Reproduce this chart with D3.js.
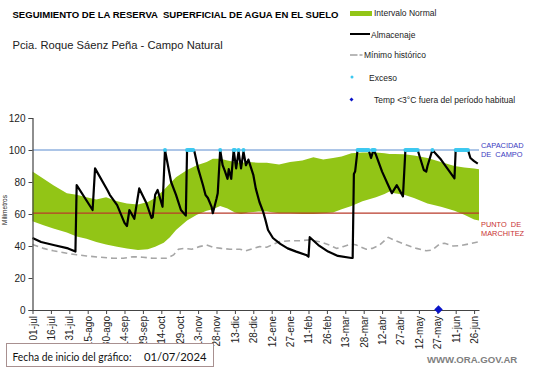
<!DOCTYPE html>
<html><head><meta charset="utf-8">
<script src="https://cdn.jsdelivr.net/npm/d3@7"></script>
<style>body{margin:0;background:#fff}svg{display:block;font-family:Arial,"Liberation Sans",sans-serif}</style>
</head><body>
<svg id="c" width="541" height="368"></svg>
<script>
// ---- data ----
const startDate = "2024-07-01", endDate = "2025-06-30";
const capacidadCampo = 100, puntoMarchitez = 60.5;
const yTicks = [0, 20, 40, 60, 80, 100, 120];
const xTickDates = ["2024-07-01","2024-07-16","2024-07-31","2024-08-15","2024-08-30","2024-09-14","2024-09-29","2024-10-14","2024-10-29","2024-11-13","2024-11-28","2024-12-13","2024-12-28","2025-01-12","2025-01-27","2025-02-11","2025-02-26","2025-03-13","2025-03-28","2025-04-12","2025-04-27","2025-05-12","2025-05-27","2025-06-11","2025-06-26"];
const xTickLabels = ["01-jul","16-jul","31-jul","15-ago","30-ago","14-sep","29-sep","14-oct","29-oct","13-nov","28-nov","13-dic","28-dic","12-ene","27-ene","11-feb","26-feb","13-mar","28-mar","12-abr","27-abr","12-may","27-may","11-jun","26-jun"];

// Intervalo normal (banda)
const bandDates = ["2024-07-01","2024-07-10","2024-07-18","2024-07-29","2024-08-06","2024-08-14","2024-08-22","2024-08-30","2024-09-08","2024-09-16","2024-09-25","2024-10-03","2024-10-09","2024-10-16","2024-10-21","2024-10-26","2024-11-04","2024-11-12","2024-11-20","2024-11-25","2024-12-01","2024-12-07","2024-12-13","2024-12-18","2024-12-24","2025-01-01","2025-01-08","2025-01-18","2025-01-27","2025-02-06","2025-02-15","2025-02-23","2025-03-03","2025-03-10","2025-03-18","2025-03-27","2025-04-07","2025-04-14","2025-04-18","2025-04-22","2025-04-30","2025-05-08","2025-05-19","2025-05-30","2025-06-10","2025-06-18","2025-06-26","2025-06-30"];
const bandLower = [55.5,53,51,48.5,46,44.5,42.5,41,39.5,38.5,37.5,38,39.5,42,45.5,50,56,59.5,62,63,65,63.5,61,60,61,61.5,61.5,60.5,60.5,60,60,60.5,61,63,65,68,70.5,72.5,74,73,72,70,66.5,64.5,62,59.5,56.5,56];
const bandUpper = [86.5,82,78,73,72,70.5,69,70.5,68,66.5,66,67.5,70,75,79,83,87.5,90.5,92.5,94.5,94.5,93.5,92.5,92,92.5,92,92,91,92.5,93.5,95.5,94,95,96,98,98.5,98.5,98,97.5,97.5,97.3,96.5,95,92.5,90,89,88.5,88];

// Mínimo histórico
const minDates = ["2024-07-01","2024-07-10","2024-07-18","2024-07-29","2024-08-06","2024-08-14","2024-08-25","2024-09-05","2024-09-13","2024-09-21","2024-09-29","2024-10-07","2024-10-18","2024-10-24","2024-10-28","2024-11-02","2024-11-08","2024-11-14","2024-11-20","2024-11-25","2024-12-02","2024-12-09","2024-12-17","2024-12-22","2024-12-28","2025-01-02","2025-01-08","2025-01-18","2025-01-27","2025-02-04","2025-02-12","2025-02-20","2025-02-28","2025-03-06","2025-03-11","2025-03-18","2025-03-22","2025-03-30","2025-04-04","2025-04-10","2025-04-17","2025-04-23","2025-05-02","2025-05-10","2025-05-18","2025-05-23","2025-05-29","2025-06-02","2025-06-09","2025-06-14","2025-06-22","2025-06-30"];
const minValues = [41,38.5,37,35.5,34.5,33.8,33,32.3,32.3,33.3,33,32.3,32.3,34.4,38,38.5,38,39.6,40.6,39.2,38.5,38,38,37,38.5,39.6,39.2,42.7,43.3,43.3,43.8,42.7,40.6,38.5,39.6,41.3,40.6,38,38.5,40.6,45.4,43.3,40.6,38.5,37,37.5,41.3,41.7,40,40.2,41.3,42.7];

// Almacenaje
const almDates = ["2024-07-01","2024-07-08","2024-07-19","2024-07-30","2024-08-05","2024-08-06","2024-08-19","2024-08-21","2024-08-31","2024-09-02","2024-09-08","2024-09-14","2024-09-16","2024-09-18","2024-09-22","2024-09-26","2024-10-02","2024-10-06","2024-10-07","2024-10-09","2024-10-11","2024-10-15","2024-10-17","2024-10-22","2024-10-26","2024-10-30","2024-11-03","2024-11-04","2024-11-09","2024-11-10","2024-11-13","2024-11-17","2024-11-19","2024-11-21","2024-11-24","2024-11-25","2024-11-28","2024-11-29","2024-12-01","2024-12-03","2024-12-05","2024-12-07","2024-12-08","2024-12-10","2024-12-12","2024-12-14","2024-12-16","2024-12-18","2024-12-20","2024-12-22","2024-12-24","2024-12-28","2024-12-30","2025-01-02","2025-01-05","2025-01-07","2025-01-09","2025-01-13","2025-01-19","2025-01-25","2025-02-01","2025-02-09","2025-02-11","2025-02-12","2025-02-19","2025-02-27","2025-03-07","2025-03-18","2025-03-19","2025-03-20","2025-03-21","2025-03-23","2025-04-01","2025-04-03","2025-04-05","2025-04-07","2025-04-12","2025-04-17","2025-04-20","2025-04-24","2025-04-29","2025-05-01","2025-05-11","2025-05-14","2025-05-16","2025-05-18","2025-05-19","2025-05-23","2025-05-30","2025-06-10","2025-06-11","2025-06-21","2025-06-23","2025-06-26","2025-06-29"];
const almValues = [45,42.5,40.5,38.5,36.5,78,62.5,88.5,75,72,65.5,54.5,52.5,62.5,57,76,66.5,57.5,58,72,75,64.5,100,80,72,62.5,59,100,100,99,88.5,78,72,70,64.5,60.5,69.5,73,100,90.5,86.5,82,88,82,100,88.5,99,88.5,99,90.5,94,84.5,76,67.5,61.5,56,50,45,41.3,38.5,36.5,34.4,33.3,45.5,40.6,36.5,33.8,32.5,32.5,85,86.5,100,100,95,100,97,86.5,78,73,78,71,100,100,92.5,87.5,86.5,90,100,94,82.3,100,100,95,93,91.5];

// Exceso (días sobre capacidad de campo)
const excesoDates = ["2024-10-17","2024-11-04","2024-11-05","2024-11-06","2024-11-07","2024-11-08","2024-11-09","2024-12-01","2024-12-12","2024-12-13","2024-12-16","2024-12-20","2025-03-23","2025-03-24","2025-03-25","2025-03-26","2025-03-27","2025-03-28","2025-03-29","2025-03-30","2025-03-31","2025-04-01","2025-04-04","2025-04-05","2025-04-06","2025-05-01","2025-05-02","2025-05-03","2025-05-04","2025-05-05","2025-05-06","2025-05-07","2025-05-08","2025-05-09","2025-05-10","2025-05-11","2025-05-23","2025-06-11","2025-06-12","2025-06-13","2025-06-14","2025-06-15","2025-06-16","2025-06-17","2025-06-18","2025-06-19","2025-06-20","2025-06-21"];
const excesoValue = 100;
// Temp < 3°C fuera del período habitual
const heladaDates = ["2025-05-28"];
const heladaValue = 0;

// ---- chart ----
const P = d3.timeParse("%Y-%m-%d");
const svg = d3.select("#c");
const x = d3.scaleTime().domain([P(startDate), P(endDate)]).range([32.5, 479]);
const y = d3.scaleLinear().domain([0, 120]).range([310, 118]);

const GREEN = "#92c516";

// band
const band = bandDates.map((d, i) => ({d: P(d), lo: bandLower[i], hi: bandUpper[i]}));
svg.append("path").datum(band)
  .attr("d", d3.area().x(d => x(d.d)).y0(d => y(d.lo)).y1(d => y(d.hi)))
  .attr("fill", GREEN);

// reference lines
svg.append("line").attr("x1", x(P(startDate))).attr("x2", x(P(endDate)))
  .attr("y1", y(capacidadCampo)).attr("y2", y(capacidadCampo))
  .attr("stroke", "#5b8bd0").attr("stroke-width", 1.2);
svg.append("line").attr("x1", x(P(startDate))).attr("x2", x(P(endDate)))
  .attr("y1", y(puntoMarchitez)).attr("y2", y(puntoMarchitez))
  .attr("stroke", "#b83a2a").attr("stroke-width", 1.2);

// minimo historico
const minData = minDates.map((d, i) => ({d: P(d), v: minValues[i]}));
svg.append("path").datum(minData)
  .attr("d", d3.line().x(d => x(d.d)).y(d => y(d.v)))
  .attr("fill", "none").attr("stroke", "#a6a6a6").attr("stroke-width", 1.6)
  .attr("stroke-dasharray", "6,4");

// almacenaje
const almData = almDates.map((d, i) => ({d: P(d), v: almValues[i]}));
svg.append("path").datum(almData)
  .attr("d", d3.line().x(d => x(d.d)).y(d => y(d.v)))
  .attr("fill", "none").attr("stroke", "#000").attr("stroke-width", 2.2)
  .attr("stroke-linejoin", "round");

// exceso
svg.append("g").selectAll("circle").data(excesoDates).join("circle")
  .attr("cx", d => x(P(d))).attr("cy", y(excesoValue)).attr("r", 2)
  .attr("fill", "#3cc8f0");

// axes
const yAxis = svg.append("g").attr("transform", `translate(${x(P(startDate))},0)`)
  .call(d3.axisLeft(y).tickValues(yTicks).tickSize(4).tickPadding(3));
yAxis.select(".domain").attr("stroke", "#444").attr("stroke-width", 1.2);
yAxis.selectAll(".tick line").attr("stroke", "#444");
yAxis.selectAll("text").attr("font-size", "10px").attr("fill", "#222").attr("font-family", "Arial");

const xAxis = svg.append("g").attr("transform", `translate(0,${y(0)})`)
  .call(d3.axisBottom(x).tickValues(xTickDates.map(P)).tickSize(4)
    .tickFormat((d, i) => xTickLabels[i]).tickSizeOuter(0));
xAxis.select(".domain").attr("stroke", "#444").attr("stroke-width", 1.2);
xAxis.selectAll(".tick line").attr("stroke", "#444");
xAxis.selectAll("text").attr("font-size", "10px").attr("fill", "#222").attr("font-family", "Arial")
  .attr("text-anchor", "end").attr("transform", "rotate(-90)")
  .attr("x", -6).attr("y", 0).attr("dy", "0.35em");

// helada markers
svg.append("g").selectAll("path").data(heladaDates).join("path")
  .attr("d", d3.symbol().type(d3.symbolSquare).size(36))
  .attr("transform", d => `translate(${x(P(d))},${y(heladaValue) - 0.5}) rotate(45)`)
  .attr("fill", "#0a14c8");

// y label
svg.append("text").attr("transform", "translate(7,210) rotate(-90)")
  .attr("text-anchor", "middle").attr("font-size", "6.5px").attr("fill", "#222").text("Milímetros");

// titles
svg.append("text").attr("x", 12.5).attr("y", 17.5).attr("font-size", "9px").attr("font-weight", "bold")
  .attr("textLength", 326).attr("lengthAdjust", "spacingAndGlyphs")
  .text("SEGUIMIENTO DE LA RESERVA  SUPERFICIAL DE AGUA EN EL SUELO").attr("xml:space", "preserve");
svg.append("text").attr("x", 12.5).attr("y", 49).attr("font-size", "11.2px").attr("fill", "#222")
  .text("Pcia. Roque Sáenz Peña - Campo Natural");

// legend
const lg = svg.append("g").attr("font-size", "8.5px").attr("fill", "#222");
lg.append("rect").attr("x", 350).attr("y", 11).attr("width", 22).attr("height", 5).attr("fill", GREEN);
lg.append("text").attr("x", 374).attr("y", 16).text("Intervalo Normal");
lg.append("line").attr("x1", 350).attr("x2", 370).attr("y1", 34).attr("y2", 34).attr("stroke", "#000").attr("stroke-width", 2);
lg.append("text").attr("x", 371).attr("y", 37.5).text("Almacenaje");
lg.append("line").attr("x1", 350).attr("x2", 357.5).attr("y1", 55).attr("y2", 55).attr("stroke", "#a6a6a6").attr("stroke-width", 1.6);
lg.append("line").attr("x1", 359.5).attr("x2", 362.5).attr("y1", 55).attr("y2", 55).attr("stroke", "#777").attr("stroke-width", 1);
lg.append("text").attr("x", 364).attr("y", 58).text("Mínimo histórico");
lg.append("circle").attr("cx", 352).attr("cy", 77).attr("r", 1.5).attr("fill", "#3cc8f0");
lg.append("text").attr("x", 369).attr("y", 80.5).text("Exceso");
lg.append("path").attr("d", d3.symbol().type(d3.symbolSquare).size(8))
  .attr("transform", "translate(351.5,99.5) rotate(45)").attr("fill", "#0a14c8");
lg.append("text").attr("x", 374).attr("y", 102.5).text("Temp <3°C fuera del período habitual");

// side labels
const side = svg.append("g").attr("font-size", "7.4px");
side.append("text").attr("x", 481).attr("y", 147.5).attr("fill", "#3a3ac0").text("CAPACIDAD");
side.append("text").attr("x", 481).attr("y", 156.5).attr("fill", "#3a3ac0").attr("xml:space", "preserve").text("DE  CAMPO");
side.append("text").attr("x", 481).attr("y", 227).attr("fill", "#c83232").attr("xml:space", "preserve").text("PUNTO  DE");
side.append("text").attr("x", 481).attr("y", 236).attr("fill", "#c83232").text("MARCHITEZ");

// footer
svg.append("rect").attr("x", 6.5).attr("y", 343.5).attr("width", 207).attr("height", 23)
  .attr("fill", "#fff").attr("stroke", "#a89090");
svg.append("text").attr("x", 12.5).attr("y", 360.5).attr("font-family", "Lato, 'Open Sans', sans-serif")
  .attr("font-size", "11px").attr("fill", "#111")
  .attr("textLength", 119).attr("lengthAdjust", "spacingAndGlyphs").text("Fecha de inicio del gráfico:");
svg.append("text").attr("x", 144).attr("y", 360.5).attr("font-family", "Lato, 'Open Sans', sans-serif")
  .attr("font-size", "11px").attr("fill", "#111")
  .attr("textLength", 62.5).attr("lengthAdjust", "spacingAndGlyphs").text("01/07/2024");
svg.append("text").attr("x", 427).attr("y", 362.5).attr("font-size", "9.6px").attr("font-weight", "bold")
  .attr("fill", "#7f7f7f").text("WWW.ORA.GOV.AR");
</script>
</body></html>
